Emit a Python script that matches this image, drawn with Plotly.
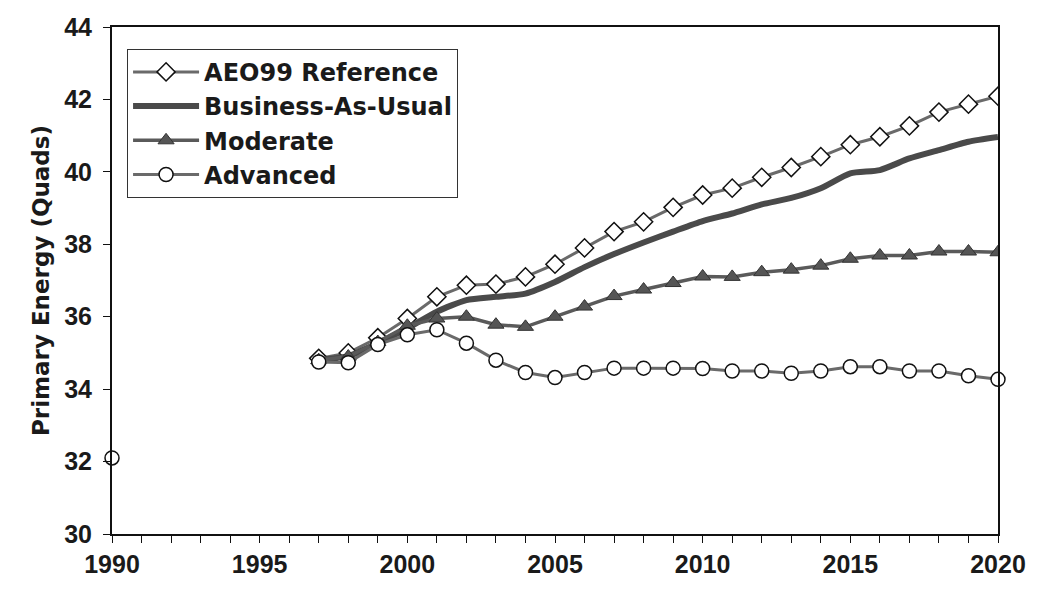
import plotly.graph_objects as go

years = list(range(1997, 2021))

aeo99_reference = [34.85, 35.0, 35.42, 35.95, 36.55, 36.87, 36.9, 37.1, 37.45, 37.9, 38.35,
                   38.62, 39.02, 39.36, 39.55, 39.85, 40.12, 40.42, 40.75, 40.97, 41.27,
                   41.65, 41.87, 42.09]
business_as_usual = [34.8, 34.91, 35.27, 35.68, 36.14, 36.46, 36.55, 36.64, 36.96, 37.37, 37.73,
                     38.05, 38.35, 38.64, 38.85, 39.1, 39.28, 39.55, 39.96, 40.05, 40.37,
                     40.6, 40.83, 40.96]
moderate = [34.8, 34.9, 35.3, 35.75, 35.95, 36.0, 35.78, 35.72, 36.0, 36.28, 36.57,
            36.75, 36.93, 37.11, 37.1, 37.23, 37.3, 37.41, 37.6, 37.69, 37.69,
            37.8, 37.8, 37.78]
advanced_years = [1990, 1991, 1992, 1993, 1994, 1995, 1996] + years
advanced = [32.1, None, None, None, None, None, None,
            34.75, 34.73, 35.23, 35.5, 35.64, 35.27, 34.8, 34.46, 34.32, 34.46, 34.58,
            34.58, 34.58, 34.57, 34.5, 34.5, 34.44, 34.5, 34.62, 34.62, 34.5,
            34.5, 34.37, 34.27]

x_ticks = [1990, 1995, 2000, 2005, 2010, 2015, 2020]
y_ticks = [30, 32, 34, 36, 38, 40, 42, 44]

tick_family = "Liberation Sans, Arial, sans-serif"
wide_family = "DejaVu Sans, Verdana, sans-serif"
text_col = "#1a1a1a"
line_col = "#6a6a6a"
mk_line = dict(color="#111111", width=1.5)

fig = go.Figure()
fig.add_trace(go.Scatter(
    x=years, y=aeo99_reference, name="AEO99 Reference", mode="lines+markers",
    line=dict(color=line_col, width=3),
    marker=dict(symbol="diamond", size=14, color="white", line=mk_line),
    legendgroup="a"))
fig.add_trace(go.Scatter(
    x=years, y=business_as_usual, name="Business-As-Usual", mode="lines",
    line=dict(color="#4a4a4a", width=6, shape="spline", smoothing=0.6),
    legendgroup="b"))
fig.add_trace(go.Scatter(
    x=years, y=moderate, name="Moderate", mode="lines+markers",
    line=dict(color="#5a5a5a", width=3.5),
    marker=dict(symbol="triangle-up", size=14, color="#555555",
                line=dict(color="#333333", width=1)),
    legendgroup="c"))
fig.add_trace(go.Scatter(
    x=advanced_years, y=advanced, name="Advanced", mode="lines+markers",
    connectgaps=False, cliponaxis=False,
    line=dict(color=line_col, width=3),
    marker=dict(symbol="circle", size=14, color="white", line=mk_line),
    legendgroup="d"))

fig.update_layout(
    width=1038, height=590,
    margin=dict(l=112, r=31, t=27, b=50),
    paper_bgcolor="white", plot_bgcolor="white",
    font=dict(family=tick_family, size=22, color=text_col, weight="bold"),
    showlegend=True,
    legend=dict(x=0.017, y=0.957, xanchor="left", yanchor="top",
                bordercolor="#333333", borderwidth=1, bgcolor="white",
                font=dict(family=wide_family, size=24, color=text_col, weight="bold"),
                itemwidth=66, tracegroupgap=0),
)
fig.update_xaxes(
    range=[1990, 2020], tickvals=x_ticks, ticktext=[str(v) for v in x_ticks],
    showgrid=False, zeroline=False,
    showline=True, linecolor="#111111", linewidth=2, mirror=True,
    ticks="outside", ticklen=7, tickcolor="#111111", tickwidth=1,
    minor=dict(dtick=1, ticks="outside", ticklen=7, tickcolor="#111111", tickwidth=1),
    tickfont=dict(family=tick_family, size=25, color=text_col, weight="bold"),
)
fig.update_yaxes(
    range=[30, 44], tickvals=y_ticks,
    showgrid=False, zeroline=False,
    showline=True, linecolor="#111111", linewidth=2, mirror=True,
    ticks="outside", ticklen=7, tickcolor="#111111", tickwidth=1,
    ticklabelstandoff=6,
    tickfont=dict(family=tick_family, size=25, color=text_col, weight="bold"),
    title=dict(text="Primary Energy (Quads)",
               font=dict(family=wide_family, size=23, color=text_col, weight="bold"),
               standoff=8),
)

fig.write_html("out.html", config={"displayModeBar": False},
               post_script="document.body.style.margin='0';document.body.style.overflow='hidden';")
